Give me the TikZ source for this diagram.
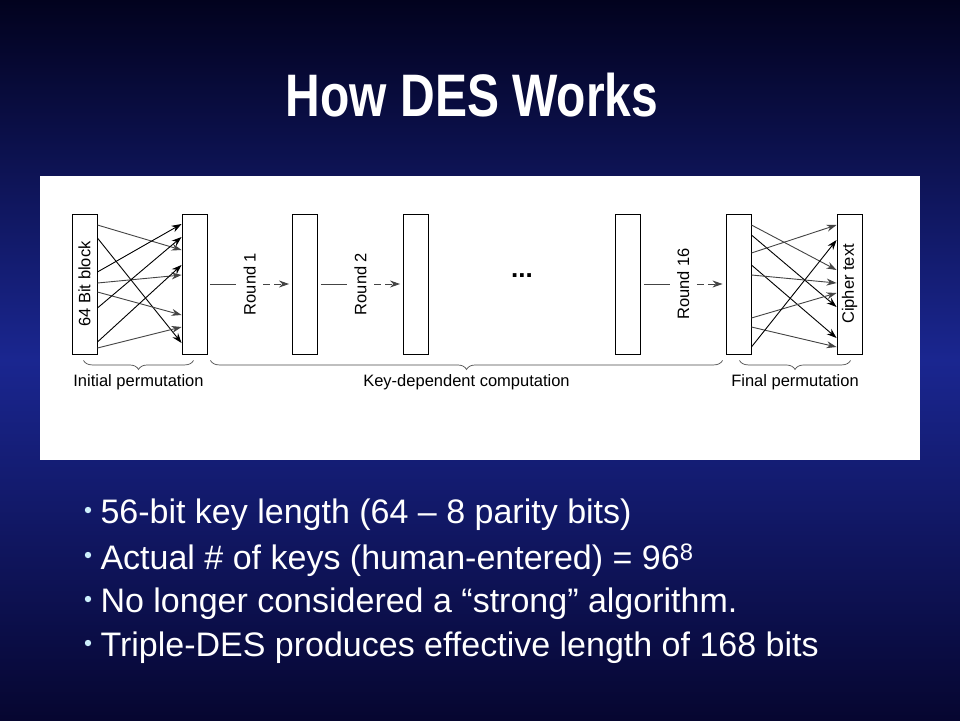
\documentclass[tikz,border=0pt]{standalone}
\usepackage{fontspec}
\setmainfont{Liberation Sans}
\usetikzlibrary{arrows.meta,decorations.pathreplacing,calc}
\definecolor{bgtop}{HTML}{02021E}
\definecolor{bgmid}{HTML}{1A2690}
\definecolor{bgbot}{HTML}{060630}
\definecolor{ar}{HTML}{444444}
\begin{document}
\begin{tikzpicture}[x=1pt,y=-1pt,
  blk/.style={draw=black,fill=white,line width=0.9pt,minimum width=25pt,minimum height=140pt,inner sep=0pt},
  lab/.style={font=\fontsize{16.5}{16.5}\selectfont,text=black},
  rlab/.style={lab,rotate=90},
  perm/.style={-{Stealth[length=10pt,width=7pt]},line width=0.9pt},
  brc/.style={decorate,decoration={brace,mirror,amplitude=9pt},draw=black!70,line width=0.7pt},
  bul/.style={anchor=west,text=white,font=\fontsize{34}{34}\selectfont}]
\shade[top color=bgtop,bottom color=bgbot,middle color=bgmid] (0,0) rectangle (960,720);
\useasboundingbox (0,0) rectangle (960,720);
\node[text=white,font=\bfseries\fontsize{60}{60}\selectfont] (title) at (472,95) {\scalebox{0.8}[1]{How DES Works}};
\node[fill=white,draw=none,minimum width=880pt,minimum height=284pt,inner sep=0pt] (panel) at (480,318) {};
% blocks
\node[blk] (b1) at (84.5,284) {};
\node[rlab] (t1) at (b1) {64 Bit block};
\node[blk] (b2) at (194.5,284) {};
\node[blk] (b3) at (305,284) {};
\node[blk] (b4) at (416,284) {};
\node[blk] (b5) at (628,284) {};
\node[blk] (b6) at (738.5,284) {};
\node[blk] (b7) at (849.5,284) {};
\node[rlab] (t7) at (b7) {Cipher text};
% rounds
\foreach \a/\b/\n/\t in {b2/b3/r1/Round 1,b3/b4/r2/Round 2,b5/b6/r16/Round 16}{
  \node[rlab] (\n) at ($(\a.east)!0.5!(\b.west)$) {\t};
  \draw[ar,line width=0.9pt] ([xshift=3pt]\a.east) -- ([xshift=-4pt]\n.north);
  \draw[ar,line width=0.9pt,dash pattern=on 7pt off 4pt,-{Stealth[length=10pt,width=7pt]}] ([xshift=4pt]\n.south) -- ([xshift=-3pt]\b.west);
}
\node[font=\bfseries\fontsize{26}{26}\selectfont] (dots) at (522,276) {...};
% initial permutation
\foreach \s/\t/\c in {225/250/ar,238/343/black,272/224/black,283/275/ar,292/315/ar,308/237/black,342/265/black,348/327/ar}{
  \draw[perm,\c] (b1.east |- 0,\s) -- (b2.west |- 0,\t);
}
\foreach \s/\t/\c in {225/270/ar,235/307/black,253/225/ar,265/338/black,275/283/ar,318/293/ar,327/347/ar,347/240/black}{
  \draw[perm,\c] (b6.east |- 0,\s) -- (b7.west |- 0,\t);
}
% braces
\draw[brc] ([xshift=-1pt,yshift=-6pt]b1.south) -- ([xshift=-1pt,yshift=-6pt]b2.south) node[midway,below=10pt,lab] (l1) {Initial permutation};
\draw[brc] ([xshift=3pt,yshift=-6pt]b2.south east) -- ([xshift=-3pt,yshift=-6pt]b6.south west) node[midway,below=10pt,lab] (l2) {Key-dependent computation};
\draw[brc] ([xshift=1pt,yshift=-6pt]b6.south) -- ([xshift=1pt,yshift=-6pt]b7.south) node[midway,below=10pt,lab] (l3) {Final permutation};
% bullets
\foreach \y/\t in {515/{56-bit key length (64 – 8 parity bits)},560/{Actual \# of keys (human-entered) = 96\textsuperscript{8}},604/{No longer considered a “strong” algorithm.},648/{Triple-DES produces effective length of 168 bits}}{
  \node[bul] at (97,\y) {\t};
  \fill[white!80!cyan] (88,\y-5) circle (3.2pt);
}
\end{tikzpicture}
\end{document}
